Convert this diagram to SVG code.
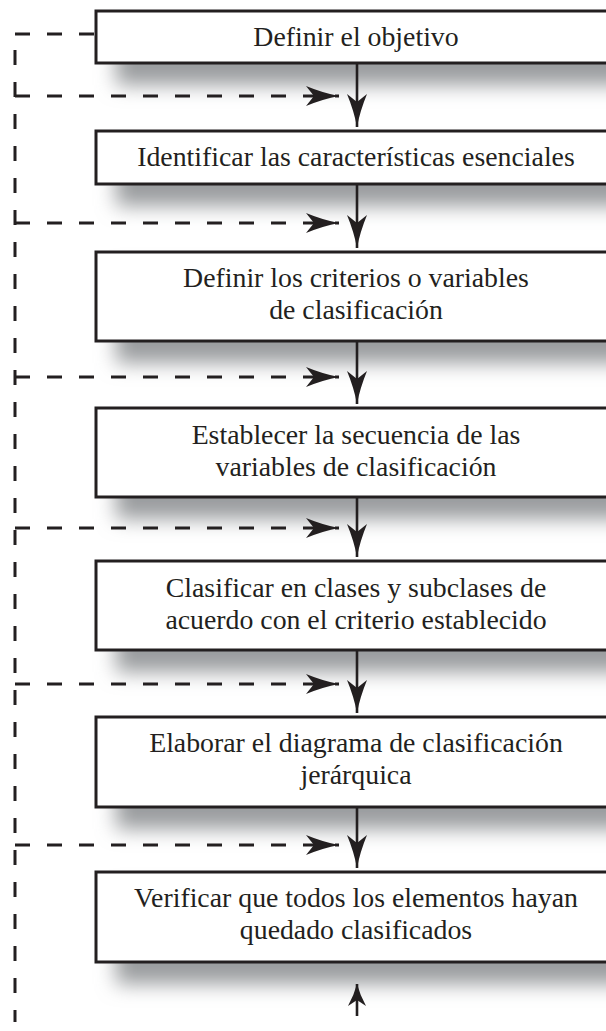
<svg xmlns="http://www.w3.org/2000/svg" width="606" height="1031" viewBox="0 0 606 1031">
<style>
.box{fill:#fff;stroke:#231f20;stroke-width:3}
.sh{fill:#9a9c9f;filter:url(#blur)}
.t{font-family:"Liberation Serif","Times New Roman",serif;font-size:27.8px;fill:#231f20;text-anchor:middle}
.dash{fill:none;stroke:#231f20;stroke-width:3;stroke-dasharray:15 17}
.arr{fill:none;stroke:#231f20;stroke-width:2.6}
</style>
<defs>
<filter id="blur" x="-20%" y="-50%" width="140%" height="200%"><feGaussianBlur stdDeviation="10"/></filter>
<marker id="ah" viewBox="-34 -11 35 22" refX="0" refY="0" markerWidth="35" markerHeight="22" markerUnits="userSpaceOnUse" orient="auto" overflow="visible">
<path d="M0,0 Q-16,-3 -33,-10 L-25,0 L-33,10 Q-16,3 0,0 Z" fill="#231f20"/>
</marker>
<marker id="ahs" viewBox="-24 -10 25 20" refX="0" refY="0" markerWidth="25" markerHeight="20" markerUnits="userSpaceOnUse" orient="auto" overflow="visible">
<path d="M0,0 Q-11,-3 -22,-9 L-16,0 L-22,9 Q-11,3 0,0 Z" fill="#231f20"/>
</marker>
</defs>
<rect width="606" height="1031" fill="#fff"/>
<g id="shadows">
<rect class="sh" x="116" y="30" width="520" height="55"/>
<rect class="sh" x="116" y="150" width="520" height="56"/>
<rect class="sh" x="116" y="271" width="520" height="92"/>
<rect class="sh" x="116" y="427" width="520" height="92"/>
<rect class="sh" x="116" y="580" width="520" height="92"/>
<rect class="sh" x="116" y="736" width="520" height="93"/>
<rect class="sh" x="116" y="891" width="520" height="93"/>
</g>
<g id="connectors">
<path class="dash" d="M15,34 H96"/>
<path class="dash" d="M15,34 V1022" style="stroke-dashoffset:16"/>
<path class="dash" d="M15,96 H339" marker-end="url(#ah)"/>
<path class="dash" d="M15,223 H339" marker-end="url(#ah)"/>
<path class="dash" d="M15,377 H339" marker-end="url(#ah)"/>
<path class="dash" d="M15,528 H339" marker-end="url(#ah)"/>
<path class="dash" d="M15,684 H339" marker-end="url(#ah)"/>
<path class="dash" d="M15,845 H339" marker-end="url(#ah)"/>
<path class="arr" d="M357,63 V127" marker-end="url(#ah)"/>
<path class="arr" d="M357,184 V248" marker-end="url(#ah)"/>
<path class="arr" d="M357,341 V404" marker-end="url(#ah)"/>
<path class="arr" d="M357,497 V557" marker-end="url(#ah)"/>
<path class="arr" d="M357,650 V713" marker-end="url(#ah)"/>
<path class="arr" d="M357,807 V868" marker-end="url(#ah)"/>
<path class="arr" d="M357,1016 V984" marker-end="url(#ahs)"/>
</g>
<g id="n1"><rect class="box" x="96" y="11" width="530" height="52"/><text class="t" x="356" y="46">Definir el objetivo</text></g>
<g id="n2"><rect class="box" x="96" y="131" width="530" height="53"/><text class="t" x="356" y="166">Identificar las características esenciales</text></g>
<g id="n3"><rect class="box" x="96" y="252" width="530" height="89"/><text class="t" x="356" y="287">Definir los criterios o variables</text><text class="t" x="356" y="319">de clasificación</text></g>
<g id="n4"><rect class="box" x="96" y="408" width="530" height="89"/><text class="t" x="356" y="444">Establecer la secuencia de las</text><text class="t" x="356" y="476">variables de clasificación</text></g>
<g id="n5"><rect class="box" x="96" y="561" width="530" height="89"/><text class="t" x="356" y="597">Clasificar en clases y subclases de</text><text class="t" x="356" y="629">acuerdo con el criterio establecido</text></g>
<g id="n6"><rect class="box" x="96" y="717" width="530" height="90"/><text class="t" x="356" y="752">Elaborar el diagrama de clasificación</text><text class="t" x="356" y="784">jerárquica</text></g>
<g id="n7"><rect class="box" x="96" y="872" width="530" height="90"/><text class="t" x="356" y="907">Verificar que todos los elementos hayan</text><text class="t" x="356" y="939">quedado clasificados</text></g>
</svg>
